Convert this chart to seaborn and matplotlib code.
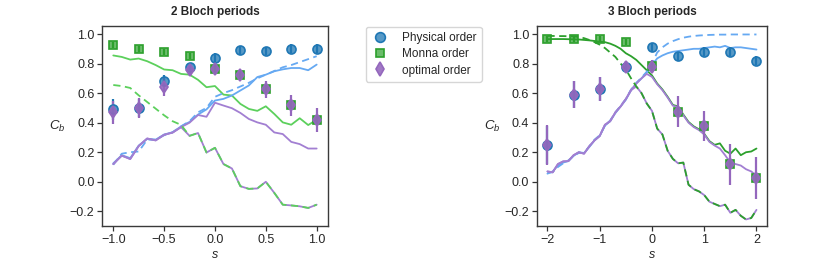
import numpy as np
import matplotlib
matplotlib.use("Agg")
import matplotlib.pyplot as plt
from matplotlib.colors import to_rgba
from matplotlib.lines import Line2D
import seaborn as sns

# ---- data: 2 Bloch periods (left) ----
s_left = np.linspace(-1, 1, 25)
left_green_solid = [0.855, 0.845, 0.827, 0.834, 0.816, 0.79, 0.76, 0.755, 0.73, 0.725, 0.69, 0.64, 0.648,
                    0.59, 0.584, 0.527, 0.493, 0.48, 0.511, 0.459, 0.402, 0.386, 0.43, 0.384, 0.42]
left_green_dash = [0.655, 0.648, 0.635, 0.585, 0.54, 0.495, 0.45, 0.41, 0.385, 0.311, 0.33, 0.198, 0.23,
                   0.12, 0.09, -0.03, -0.048, -0.045, 0.0, -0.075, -0.155, -0.16, -0.166, -0.177, -0.155]
left_blue_solid = [0.125, 0.18, 0.16, 0.245, 0.29, 0.285, 0.32, 0.335, 0.375, 0.405, 0.455, 0.49, 0.55,
                   0.561, 0.584, 0.618, 0.652, 0.709, 0.725, 0.748, 0.761, 0.77, 0.77, 0.755, 0.793]
left_blue_dash = [0.115, 0.19, 0.2, 0.205, 0.285, 0.285, 0.315, 0.335, 0.375, 0.41, 0.47, 0.5, 0.575,
                  0.6, 0.62, 0.645, 0.67, 0.7, 0.725, 0.75, 0.775, 0.79, 0.81, 0.83, 0.85]
left_purple = [0.12, 0.177, 0.154, 0.242, 0.293, 0.28, 0.318, 0.333, 0.37, 0.4, 0.452, 0.44, 0.535,
               0.516, 0.498, 0.466, 0.425, 0.402, 0.386, 0.334, 0.323, 0.27, 0.255, 0.225, 0.225]
left_purple_low = [0.12, 0.177, 0.154, 0.242, 0.293, 0.28, 0.318, 0.333, 0.37, 0.311, 0.33, 0.198, 0.23,
                   0.12, 0.09, -0.03, -0.048, -0.045, 0.0, -0.075, -0.155, -0.16, -0.166, -0.177, -0.155]

pts_left = [-1.0, -0.75, -0.5, -0.25, 0.0, 0.25, 0.5, 0.75, 1.0]
left_phys = [0.49, 0.50, 0.68, 0.775, 0.84, 0.89, 0.885, 0.90, 0.90]
left_phys_err = [0.07, 0.06, 0.04, 0.03, 0.03, 0.03, 0.03, 0.03, 0.03]
left_monna = [0.925, 0.90, 0.88, 0.85, 0.763, 0.72, 0.625, 0.517, 0.42]
left_monna_err = [0.02, 0.02, 0.02, 0.02, 0.02, 0.02, 0.02, 0.02, 0.02]
left_opt = [0.47, 0.50, 0.643, 0.756, 0.765, 0.72, 0.625, 0.517, 0.42]
left_opt_err = [0.08, 0.07, 0.06, 0.04, 0.04, 0.04, 0.055, 0.07, 0.08]

# ---- data: 3 Bloch periods (right) ----
s_right = np.linspace(-2, 2, 41)
right_green_solid = [0.965, 0.966, 0.966, 0.966, 0.965, 0.964, 0.963, 0.96, 0.957, 0.953, 0.948, 0.945,
                     0.935, 0.92, 0.9, 0.87, 0.85, 0.825, 0.79, 0.755, 0.72, 0.665, 0.625, 0.575, 0.52,
                     0.51, 0.455, 0.405, 0.375, 0.355, 0.325, 0.275, 0.25, 0.26, 0.21, 0.19, 0.225, 0.18,
                     0.2, 0.205, 0.225]
right_green_dash = [0.987, 0.987, 0.986, 0.986, 0.985, 0.984, 0.98, 0.972, 0.96, 0.945, 0.928, 0.905,
                    0.875, 0.845, 0.8, 0.76, 0.7, 0.645, 0.6, 0.53, 0.48, 0.36, 0.32, 0.21, 0.155, 0.125,
                    0.13, -0.02, -0.05, -0.065, -0.09, -0.135, -0.15, -0.165, -0.155, -0.21, -0.19, -0.23,
                    -0.255, -0.245, -0.19]
right_blue_solid = [0.055, 0.07, 0.11, 0.13, 0.14, 0.175, 0.2, 0.195, 0.235, 0.28, 0.31, 0.38, 0.41,
                    0.465, 0.51, 0.555, 0.62, 0.665, 0.7, 0.74, 0.79, 0.835, 0.855, 0.87, 0.88, 0.885,
                    0.89, 0.895, 0.9, 0.9, 0.905, 0.91, 0.915, 0.91, 0.92, 0.905, 0.91, 0.91, 0.905,
                    0.9, 0.895]
right_blue_dash = [0.06, 0.065, 0.1, 0.125, 0.145, 0.175, 0.195, 0.195, 0.24, 0.285, 0.315, 0.38, 0.415,
                   0.47, 0.515, 0.56, 0.625, 0.67, 0.705, 0.745, 0.8, 0.875, 0.91, 0.935, 0.952, 0.965,
                   0.975, 0.982, 0.987, 0.99, 0.992, 0.994, 0.995, 0.996, 0.996, 0.997, 0.997, 0.997,
                   0.997, 0.997, 0.997]
right_purple = [0.07, 0.064, 0.12, 0.138, 0.14, 0.18, 0.2, 0.19, 0.24, 0.28, 0.31, 0.386, 0.41, 0.47,
                0.51, 0.56, 0.62, 0.665, 0.7, 0.73, 0.71, 0.66, 0.62, 0.57, 0.515, 0.505, 0.45, 0.4,
                0.37, 0.35, 0.32, 0.27, 0.245, 0.225, 0.18, 0.13, 0.12, 0.11, 0.085, 0.07, 0.04]
right_purple_low = [0.07, 0.064, 0.12, 0.138, 0.14, 0.18, 0.2, 0.19, 0.24, 0.28, 0.31, 0.386, 0.41, 0.47,
                    0.51, 0.56, 0.62, 0.645, 0.6, 0.53, 0.48, 0.36, 0.32, 0.21, 0.155, 0.125, 0.13, -0.02,
                    -0.05, -0.065, -0.09, -0.135, -0.15, -0.165, -0.155, -0.21, -0.19, -0.23, -0.255,
                    -0.245, -0.19]

pts_right = [-2.0, -1.5, -1.0, -0.5, 0.0, 0.5, 1.0, 1.5, 2.0]
right_phys = [0.25, 0.59, 0.63, 0.78, 0.91, 0.85, 0.88, 0.88, 0.82]
right_phys_err = [0.13, 0.09, 0.08, 0.04, 0.03, 0.03, 0.03, 0.03, 0.03]
right_monna = [0.965, 0.968, 0.968, 0.945, 0.783, 0.473, 0.379, 0.117, 0.025]
right_monna_err = [0.02, 0.02, 0.02, 0.02, 0.02, 0.02, 0.02, 0.02, 0.02]
right_opt = [0.25, 0.59, 0.63, 0.78, 0.78, 0.473, 0.379, 0.117, 0.025]
right_opt_err = [0.135, 0.09, 0.08, 0.04, 0.045, 0.105, 0.1, 0.14, 0.14]

# ---- style ----
sns.set_theme(style="ticks")
plt.rcParams['font.family'] = ['Liberation Sans', 'DejaVu Sans']
plt.rcParams['mathtext.fontset'] = 'custom'
plt.rcParams['mathtext.it'] = 'Liberation Sans:italic'
plt.rcParams['mathtext.rm'] = 'Liberation Sans'

c_phys = "#1f77b4"
c_monna = "#2ca02c"
c_opt = "#9467bd"
c_blue_line = "#66a9f2"
c_purple_line = "#a27fd2"

fig = plt.figure(figsize=(8.3, 2.59), dpi=100)
ax1 = fig.add_axes([0.123, 0.127, 0.272, 0.773])
ax2 = fig.add_axes([0.647, 0.127, 0.277, 0.773])


def draw_lines(ax, s, gs, gd, bs, bd, pu, pl, green):
    lw = 1.3
    dash = (0, (4, 2.5))
    sns.lineplot(x=s, y=gs, ax=ax, color=green, lw=lw)
    sns.lineplot(x=s, y=bs, ax=ax, color=c_blue_line, lw=lw)
    sns.lineplot(x=s, y=bd, ax=ax, color=c_blue_line, lw=lw, linestyle=dash)
    sns.lineplot(x=s, y=pu, ax=ax, color=c_purple_line, lw=lw)
    sns.lineplot(x=s, y=pl, ax=ax, color=c_purple_line, lw=lw)
    sns.lineplot(x=s, y=gd, ax=ax, color=green, lw=lw, linestyle=dash)


# marker, size, colour, face alpha
marker_styles = [('o', 6.5, c_phys, 0.75), ('s', 5.5, c_monna, 0.7), ('d', 6.5, c_opt, 0.88)]


def draw_points(ax, x, phys, pe, monna, me, opt, oe):
    for (y, e), (m, ms, c, a) in zip([(phys, pe), (monna, me), (opt, oe)], marker_styles):
        ax.errorbar(x, y, yerr=e, fmt=m, ms=ms, color=c, mfc=to_rgba(c, a),
                    mec=c, mew=1.2, elinewidth=1.6, capsize=0, zorder=3)


draw_lines(ax1, s_left, left_green_solid, left_green_dash, left_blue_solid, left_blue_dash,
           left_purple, left_purple_low, "#5cd05c")
draw_points(ax1, pts_left, left_phys, left_phys_err, left_monna, left_monna_err, left_opt, left_opt_err)

draw_lines(ax2, s_right, right_green_solid, right_green_dash, right_blue_solid, right_blue_dash,
           right_purple, right_purple_low, c_monna)
draw_points(ax2, pts_right, right_phys, right_phys_err, right_monna, right_monna_err, right_opt, right_opt_err)

for ax in (ax1, ax2):
    ax.set_ylim(-0.3, 1.055)
    ax.set_yticks([-0.2, 0.0, 0.2, 0.4, 0.6, 0.8, 1.0])
    ax.set_yticklabels(["\u22120.2", "0.0", "0.2", "0.4", "0.6", "0.8", "1.0"])
    ax.set_xlabel("$s$", fontsize=9, labelpad=2)
    ax.set_ylabel("$C_b$", fontsize=9.5, rotation=0, labelpad=9, va='center')
    ax.tick_params(labelsize=9, length=3.5, width=0.9, color="#333333", pad=2)
    for sp in ax.spines.values():
        sp.set_color("#3a3a3a")
        sp.set_linewidth(1.0)

ax1.set_xlim(-1.11, 1.11)
ax1.set_xticks([-1.0, -0.5, 0.0, 0.5, 1.0])
ax1.set_xticklabels(["\u22121.0", "\u22120.5", "0.0", "0.5", "1.0"])
ax1.set_title("2 Bloch periods", fontsize=8.5, fontweight='bold', pad=8)

ax2.set_xlim(-2.2, 2.2)
ax2.set_xticks([-2, -1, 0, 1, 2])
ax2.set_xticklabels(["\u22122", "\u22121", "0", "1", "2"])
ax2.set_title("3 Bloch periods", fontsize=8.5, fontweight='bold', pad=8)

handles = [Line2D([], [], ls='none', marker=m, ms=ms + 0.5, color=c, mfc=to_rgba(c, a), mec=c, mew=1.2)
           for m, ms, c, a in marker_styles]
fig.legend(handles, ["Physical order", "Monna order", "optimal order"], loc='upper left',
           bbox_to_anchor=(0.441, 0.896), borderaxespad=0, fontsize=8.5, frameon=True,
           handlelength=1.5, handletextpad=1.1, borderpad=0.45, labelspacing=0.35, edgecolor="#cccccc")

fig.savefig("out.png", dpi=100)
